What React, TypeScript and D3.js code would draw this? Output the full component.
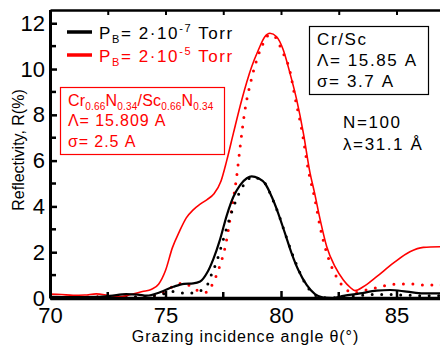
import React, { useRef, useEffect } from 'react';
import * as d3 from 'd3';

// [theta (deg), R (%)]
const measLowP: [number, number][] = [
  [70, 0.05], [71, 0.04], [72, 0.05], [72.6, 0.09], [73.3, 0.17], [73.8, 0.15], [74.2, 0.1],
  [74.76, 0.25], [75.34, 0.49], [75.8, 0.62], [76.2, 0.64], [76.5, 0.72], [76.8, 1.1],
  [77.07, 1.7], [77.36, 2.55], [77.65, 3.6], [77.94, 4.42], [78.23, 4.93], [78.52, 5.23],
  [78.73, 5.31], [79.02, 5.23], [79.31, 5.0], [79.6, 4.42], [79.88, 3.7], [80.17, 2.83],
  [80.46, 1.95], [80.75, 1.22], [81.11, 0.57], [81.47, 0.17], [81.83, 0.02], [82.27, 0],
  [82.7, 0.09], [83.42, 0.2], [84.14, 0.32], [84.72, 0.35], [85.44, 0.28], [86.16, 0.2], [87, 0.2],
];
const fitLowP: [number, number][] = [
  [70, 0.02], [71, 0.02], [72, 0.03], [73, 0.04], [74, 0.05], [74.5, 0.1], [75, 0.2],
  [75.34, 0.28], [75.9, 0.2], [76.3, 0.25], [76.78, 0.52], [77.0, 1.05], [77.22, 1.6],
  [77.43, 2.3], [77.72, 3.3], [78.0, 4.13], [78.3, 4.8], [78.6, 5.2], [78.8, 5.3], [79.05, 5.2],
  [79.35, 4.95], [79.6, 4.4], [79.9, 3.65], [80.2, 2.75], [80.5, 1.9], [80.8, 1.15], [81.1, 0.55],
  [81.45, 0.15], [81.8, 0.02], [82.2, 0], [82.6, 0.05], [83.3, 0.1], [84, 0.15], [84.7, 0.15],
  [85.5, 0.12], [86.2, 0.1], [87, 0.1],
];
const measHighP: [number, number][] = [
  [70, 0.17], [70.5, 0.15], [71, 0.12], [71.5, 0.13], [72, 0.18], [72.5, 0.12], [73, 0.05],
  [73.5, 0.15], [74, 0.28], [74.4, 0.38], [74.7, 0.6], [75, 1.2], [75.3, 2.2], [75.6, 2.9],
  [75.9, 3.5], [76.2, 3.85], [76.5, 4.1], [76.8, 4.3], [77.1, 4.55], [77.4, 5.1], [77.65, 6.0],
  [77.94, 7.2], [78.3, 8.65], [78.73, 10.1], [79.02, 10.83], [79.3, 11.41], [79.52, 11.56],
  [79.81, 11.41], [80.1, 10.83], [80.39, 9.81], [80.68, 8.65], [80.97, 7.19], [81.25, 5.5],
  [81.45, 4.6], [81.7, 3.4], [81.98, 2.24], [82.34, 1.37], [82.7, 0.79], [82.99, 0.47],
  [83.2, 0.32], [83.56, 0.49], [84.14, 0.93], [84.86, 1.52], [85.58, 2.02], [86.16, 2.21], [87, 2.24],
];
const fitHighP: [number, number][] = [
  [70, 0.02], [71, 0.03], [72, 0.05], [73, 0.02], [74, 0.05], [74.5, 0.1], [75, 0.3],
  [75.4, 0.55], [75.8, 0.66], [76.1, 0.5], [76.4, 0.32], [76.75, 0.25], [77.1, 0.75],
  [77.35, 1.4], [77.6, 2.3], [77.85, 3.8], [78.08, 5.3], [78.23, 6.6], [78.44, 8.2],
  [78.73, 9.6], [78.95, 10.4], [79.23, 11.12], [79.5, 11.5], [79.75, 11.4], [80.03, 10.83],
  [80.39, 9.9], [80.6, 8.8], [80.9, 7.34], [81.18, 5.6], [81.47, 4.3], [81.69, 3.12],
  [81.9, 2.24], [82.19, 1.37], [82.48, 0.79], [82.77, 0.42], [83.13, 0.23], [83.7, 0.35],
  [84.3, 0.49], [84.86, 0.6], [85.6, 0.61], [86.2, 0.57], [87, 0.57],
];

const xMajor = [70, 75, 80, 85];
const xMinor = [72.5, 77.5, 82.5];
const yMajor = [0, 2, 4, 6, 8, 10, 12];
const yMinor = [1, 3, 5, 7, 9, 11];

const FONT = '"Liberation Sans", Arial, sans-serif';

export default function App() {
  const svgRef = useRef<SVGGElement>(null);

  useEffect(() => {
    const svg = d3.select(svgRef.current);
    svg.selectAll('*').remove();

    const x = d3.scaleLinear().domain([70, 87]).range([50, 442.7]);
    const y = d3.scaleLinear().domain([0, 12.6]).range([298, 9.5]);

    svg.append('defs').append('clipPath').attr('id', 'plot')
      .append('rect').attr('x', 50).attr('y', 9.5).attr('width', 393).attr('height', 289);

    const line = d3.line<[number, number]>()
      .x((d) => x(d[0])).y((d) => y(d[1])).curve(d3.curveMonotoneX);

    const curves = svg.append('g').attr('clip-path', 'url(#plot)');
    curves.append('path').datum(fitHighP).attr('d', line).attr('fill', 'none')
      .attr('stroke', '#ff0000').attr('stroke-width', 3).attr('stroke-linecap', 'round')
      .attr('stroke-dasharray', '0 9.5');
    curves.append('path').datum(fitLowP).attr('d', line).attr('fill', 'none')
      .attr('stroke', '#000').attr('stroke-width', 3).attr('stroke-linecap', 'round')
      .attr('stroke-dasharray', '0 9.5');
    curves.append('path').datum(measHighP).attr('d', line).attr('fill', 'none')
      .attr('stroke', '#ff0000').attr('stroke-width', 1.6);
    curves.append('path').datum(measLowP).attr('d', line).attr('fill', 'none')
      .attr('stroke', '#000').attr('stroke-width', 2.2);

    // Axes
    const left = svg.append('g').attr('transform', 'translate(50,0)')
      .call(d3.axisLeft(y).tickValues(yMajor).tickSize(-7).tickSizeOuter(0).tickPadding(5).tickFormat(d3.format('d')));
    left.select('.domain').attr('stroke-width', 3);
    left.selectAll('.tick line').attr('stroke-width', 2.5);
    left.selectAll('.tick text').attr('font-size', 22).attr('font-family', FONT).attr('fill', '#000');
    svg.append('g').selectAll('line').data(yMinor).join('line')
      .attr('x1', 50).attr('x2', 56).attr('y1', (d) => y(d)).attr('y2', (d) => y(d))
      .attr('stroke', '#000').attr('stroke-width', 2.5);

    const bottom = svg.append('g').attr('transform', 'translate(0,298)')
      .call(d3.axisBottom(x).tickValues(xMajor).tickSize(-7).tickSizeOuter(0).tickPadding(9.5).tickFormat(d3.format('d')));
    bottom.select('.domain').attr('stroke-width', 3.5);
    bottom.selectAll('.tick line').attr('stroke-width', 2.5);
    bottom.selectAll('.tick text').attr('font-size', 22).attr('font-family', FONT).attr('fill', '#000');
    svg.append('g').selectAll('line').data(xMinor).join('line')
      .attr('x1', (d) => x(d)).attr('x2', (d) => x(d)).attr('y1', 298).attr('y2', 292)
      .attr('stroke', '#000').attr('stroke-width', 2.5);

    const top = svg.append('g').attr('transform', 'translate(0,10)')
      .call(d3.axisTop(x).tickValues([...xMajor, ...xMinor]).tickSize(-5).tickSizeOuter(0).tickFormat(() => ''));
    top.select('.domain').attr('stroke-width', 2.5);
    top.selectAll('.tick line').attr('stroke-width', 2);

    // Axis titles
    svg.append('text').attr('x', 245.5).attr('y', 342).attr('text-anchor', 'middle')
      .attr('font-size', 16).attr('letter-spacing', 0.9).attr('font-family', FONT)
      .text('Grazing incidence angle θ(°)');
    svg.append('text').attr('transform', 'translate(24,150) rotate(-90)').attr('text-anchor', 'middle')
      .attr('font-size', 16).attr('font-family', FONT).text('Reflectivity, R(%)');
  }, []);

  const txt = { fontFamily: FONT, fontSize: 17, letterSpacing: 1.6 } as const;

  return (
    <div style={{ position: 'fixed', left: 0, top: 0 }}>
      <svg width={440} height={347} style={{ display: 'block', background: '#fff' }}>
        <g ref={svgRef} />
        {/* legend */}
        <line x1={67} x2={92} y1={32} y2={32} stroke="#000" strokeWidth={3.5} />
        <text x={99} y={39} {...txt} fill="#000">
          P<tspan dy={4} fontSize={11}>B</tspan><tspan dy={-4}>= 2·10</tspan>
          <tspan dy={-7} fontSize={11}>-7</tspan><tspan dy={7}> Torr</tspan>
        </text>
        <line x1={67} x2={92} y1={55} y2={55} stroke="#ff0000" strokeWidth={3.5} />
        <text x={99} y={62} {...txt} fill="#ff0000">
          P<tspan dy={4} fontSize={11}>B</tspan><tspan dy={-4}>= 2·10</tspan>
          <tspan dy={-7} fontSize={11}>-5</tspan><tspan dy={7}> Torr</tspan>
        </text>
        {/* CrN/ScN box */}
        <rect x={60.5} y={87.5} width={164} height={67} fill="none" stroke="#ff0000" strokeWidth={1.2} />
        <g fill="#ff0000" style={{ fontFamily: FONT, fontSize: 16, letterSpacing: 0.9 }}>
          <text x={68} y={106} style={{ letterSpacing: 0.2 }}>
            Cr<tspan dy={4} fontSize={10}>0.66</tspan><tspan dy={-4}>N</tspan>
            <tspan dy={4} fontSize={10}>0.34</tspan><tspan dy={-4}>/Sc</tspan>
            <tspan dy={4} fontSize={10}>0.66</tspan><tspan dy={-4}>N</tspan>
            <tspan dy={4} fontSize={10}>0.34</tspan>
          </text>
          <text x={68} y={126}>Λ= 15.809 A</text>
          <text x={68} y={147}>σ= 2.5 A</text>
        </g>
        {/* Cr/Sc box */}
        <rect x={309.5} y={26.5} width={119} height={68} fill="#fff" stroke="#000" strokeWidth={1.2} />
        <g fill="#000" style={{ fontFamily: FONT, fontSize: 17, letterSpacing: 1.6, whiteSpace: 'pre' }}>
          <text x={317} y={45}>Cr/Sc</text>
          <text x={317} y={66}>Λ= 15.85 A</text>
          <text x={317} y={87}>σ= 3.7 A</text>
          <text x={343} y={128}>N=100</text>
          <text x={343} y={150}>λ=31.1 Å</text>
        </g>
      </svg>
    </div>
  );
}
